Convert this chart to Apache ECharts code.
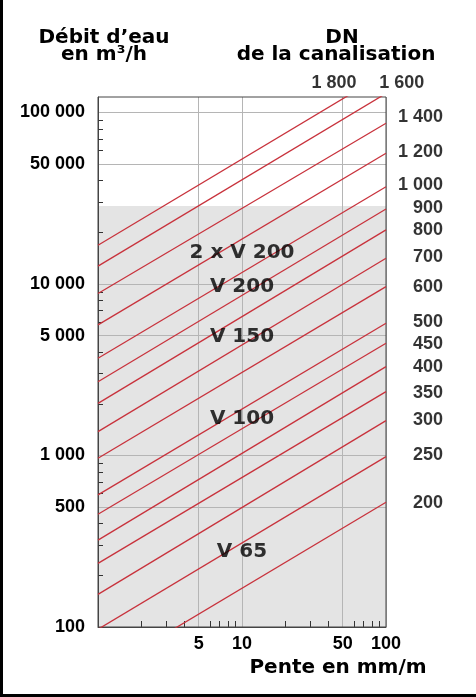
<!DOCTYPE html>
<html><head><meta charset="utf-8">
<script src="https://cdn.jsdelivr.net/npm/echarts@6/dist/echarts.min.js"></script>
<style>html,body{margin:0;padding:0;background:#fff;}#c{width:476px;height:697px;}</style>
</head><body><div id="c"></div>
<script>
// ---- data ----
const dnLabels = ['200','250','300','350','400','450','500','600','700','800','900','1 000','1 200','1 400','1 600','1 800'];
const penteStart = 1;
const penteEnd = 100;
const debitAtPenteStart = [53, 97, 155, 235, 321, 454, 589, 964, 1377, 2014, 2692, 3690, 5770, 8800, 12700, 16800];
const debitAtPenteEnd = [534, 984, 1596, 2355, 3296, 4510, 5900, 9640, 14130, 20650, 27360, 36900, 57800, 86500, 129000, 170000];
const dnLabelPente = [100,100,100,100,100,100,100,100,100,100,100,100,100,100,128.5,43.5];
const dnLabelDebit = [526, 1007, 1610, 2320, 3270, 4470, 6030, 9640, 14420, 20650, 27600, 37760, 59000, 94600, 147600, 147600];
const penteLabels = [5, 10, 50, 100];
const penteMinorTicks = [2,3,4,6,7,8,9,20,30,40,60,70,80,90];
const debitLabels = [100, 500, 1000, 5000, 10000, 50000, 100000];
const debitMinorTicks = [200,300,400,600,700,800,900,2000,3000,4000,6000,7000,8000,9000,20000,30000,40000,60000,70000,80000,90000];
const debitMin = 100;
const debitMax = 123000;
const zoneLimit = 28500;
const zoneNames = ['2 x V 200','V 200','V 150','V 100','V 65'];
const zonePente = [10, 10, 10, 10, 10];
const zoneDebit = [15240, 9640, 4890, 1626, 273];

// ---- chart ----
const chart = echarts.init(document.getElementById('c'));
const fmt = v => String(Math.round(v)).replace(/\B(?=(\d{3})+(?!\d))/g, ' ');
const LBL = {fontFamily:'"Liberation Sans", Arial, sans-serif', fontWeight:'bold', fontSize:18, color:'#000'};
const TTL = {fontFamily:'"DejaVu Sans", Verdana, sans-serif', fontWeight:'bold', fontSize:20, fill:'#000'};
const RED = '#c8323c';

const series = [];
// grey zone host
series.push({
  type:'line', z:1, silent:true, symbol:'none', animation:false,
  data:[[penteStart, debitMin],[penteEnd, zoneLimit]],
  lineStyle:{opacity:0},
  markArea:{silent:true, itemStyle:{color:'#e4e4e4'},
    data:[[{xAxis:penteStart, yAxis:debitMin},{xAxis:penteEnd, yAxis:zoneLimit}]]}
});
dnLabels.forEach((dn,i)=>{
  series.push({
    type:'line', name:'DN '+dn, z:6, silent:true, symbol:'none', animation:false, clip:true,
    data:[[penteStart, debitAtPenteStart[i]],[penteEnd, debitAtPenteEnd[i]]],
    lineStyle:{color:RED, width:1.3}
  });
});
// DN labels
series.push({
  type:'scatter', z:7, silent:true, clip:false, symbolSize:0, animation:false,
  data: dnLabels.map((dn,i)=>{
    const top = dnLabelDebit[i] > debitMax;
    return {value:[dnLabelPente[i], dnLabelDebit[i]],
      label:{show:true, formatter:dn, position:'inside', align: top?'center':'right',
        verticalAlign:'middle', offset: top?[0,0]:[57,0], ...LBL}};
  })
});
// zone names
series.push({
  type:'scatter', z:7, silent:true, clip:false, symbolSize:0, animation:false,
  data: zoneNames.map((n,i)=>({value:[zonePente[i], zoneDebit[i]],
    label:{show:true, formatter:n, position:'inside', align:'center', verticalAlign:'middle',
      fontFamily:'"DejaVu Sans", Verdana, sans-serif', fontWeight:'bold', fontSize:20, color:'#000'}}))
});

chart.setOption({
  animation:false,
  grid:{left:98, top:97, width:288, height:530, show:true, borderColor:'#444', borderWidth:1, backgroundColor:'transparent', z:4},
  xAxis:[
    {type:'log', logBase:10, min:penteStart, max:penteEnd, position:'bottom', z:3,
     axisLine:{show:true, lineStyle:{color:'#444', width:1}},
     axisTick:{show:false, customValues:penteLabels},
     axisLabel:{customValues:penteLabels, margin:8, ...LBL},
     splitLine:{show:true, lineStyle:{color:'#b5b5b5', width:1}}},
    {type:'log', logBase:10, min:penteStart, max:penteEnd, position:'bottom', z:3,
     axisLine:{show:false}, axisLabel:{show:false}, splitLine:{show:false},
     axisTick:{show:true, inside:true, length:6, customValues:penteMinorTicks, lineStyle:{color:'#333', width:1}}}
  ],
  yAxis:[
    {type:'log', logBase:10, min:debitMin, max:debitMax, position:'left', z:3,
     axisLine:{show:true, lineStyle:{color:'#444', width:1}},
     axisTick:{show:false, customValues:debitLabels},
     axisLabel:{customValues:debitLabels, margin:13, formatter:fmt, ...LBL},
     splitLine:{show:true, lineStyle:{color:'#b5b5b5', width:1}}},
    {type:'log', logBase:10, min:debitMin, max:debitMax, position:'left', z:3,
     axisLine:{show:false}, axisLabel:{show:false}, splitLine:{show:false},
     axisTick:{show:true, inside:true, length:5, customValues:debitMinorTicks, lineStyle:{color:'#333', width:1}}}
  ],
  series: series,
  graphic:[
    {type:'text', x:104, y:38, style:{text:'Débit d’eau', textAlign:'center', textVerticalAlign:'middle', font:'bold 20px "DejaVu Sans", Verdana, sans-serif', fill:'#000'}},
    {type:'text', x:104, y:55, style:{text:'en m³/h', textAlign:'center', textVerticalAlign:'middle', font:'bold 20px "DejaVu Sans", Verdana, sans-serif', fill:'#000'}},
    {type:'text', x:342, y:38, style:{text:'DN', textAlign:'center', textVerticalAlign:'middle', font:'bold 20px "DejaVu Sans", Verdana, sans-serif', fill:'#000'}},
    {type:'text', x:336, y:55, style:{text:'de la canalisation', textAlign:'center', textVerticalAlign:'middle', font:'bold 20px "DejaVu Sans", Verdana, sans-serif', fill:'#000'}},
    {type:'text', x:338, y:668, style:{text:'Pente en mm/m', textAlign:'center', textVerticalAlign:'middle', font:'bold 20px "DejaVu Sans", Verdana, sans-serif', fill:'#000'}},
    {type:'rect', shape:{x:0, y:0, width:3, height:697}, style:{fill:'#000'}},
    {type:'rect', shape:{x:0, y:694, width:476, height:3}, style:{fill:'#000'}}
  ]
});
</script></body></html>
